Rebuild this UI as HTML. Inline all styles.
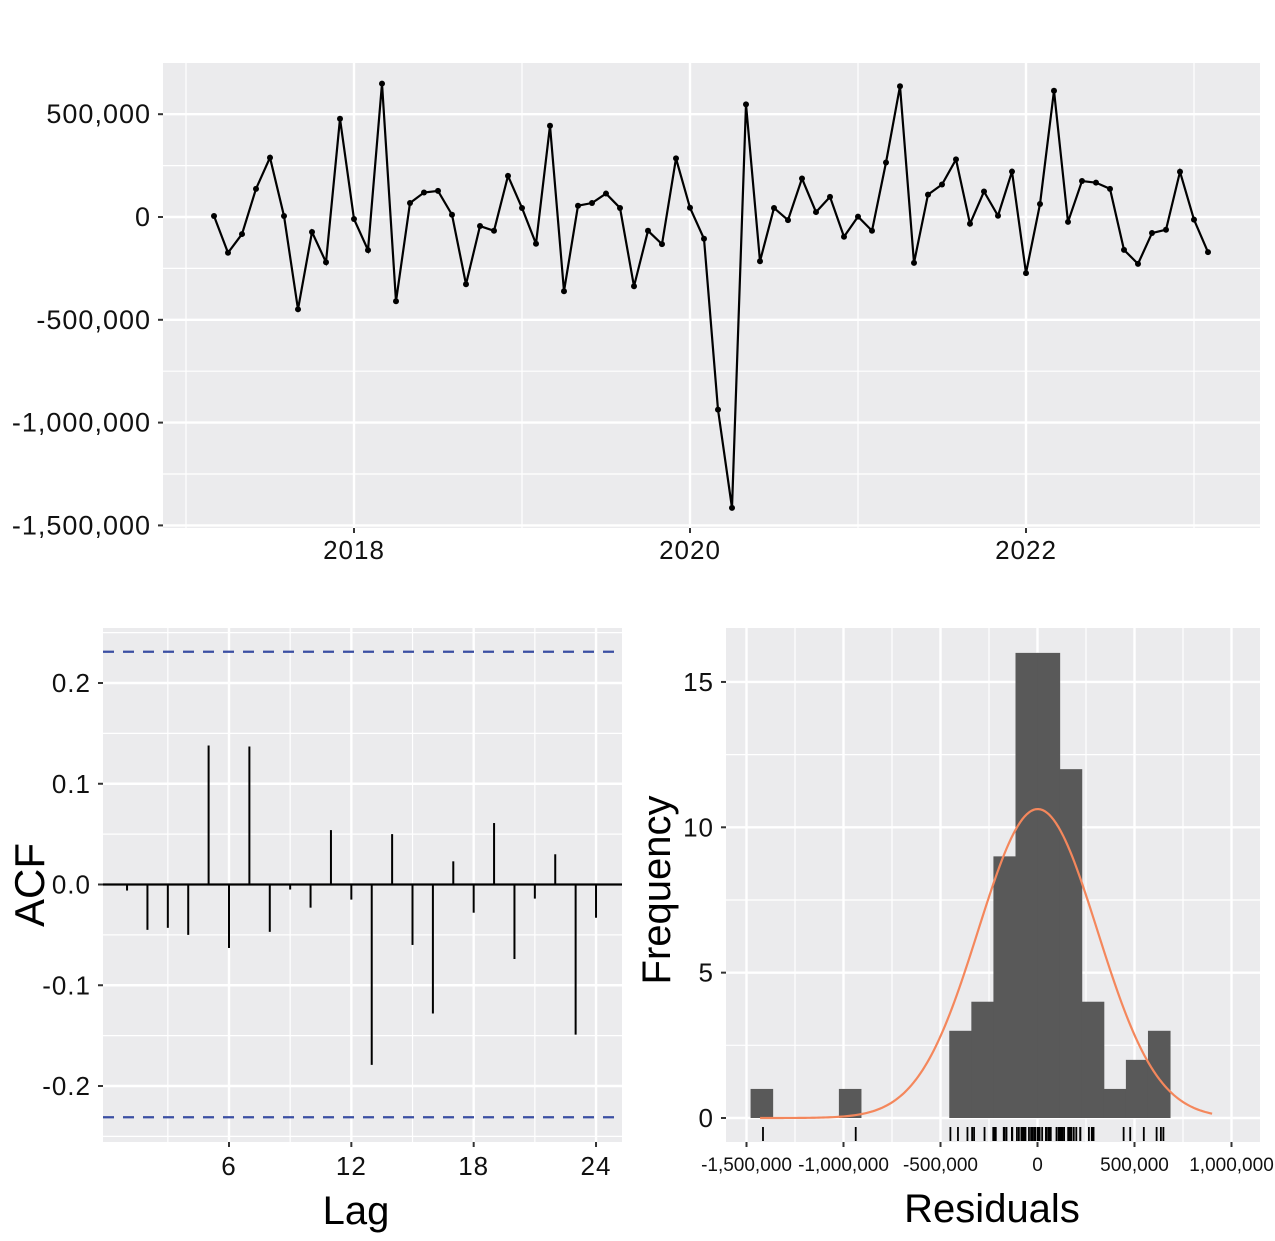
<!DOCTYPE html>
<html><head><meta charset="utf-8">
<style>
html,body{margin:0;padding:0;background:#fff;}
svg{display:block;font-family:"Liberation Sans",sans-serif;}
</style></head>
<body>
<svg id="chart" width="1275" height="1241" viewBox="0 0 1275 1241" xmlns="http://www.w3.org/2000/svg"></svg>
<script>
// ---- data ----
const residuals = [5000,-174000,-83000,137000,289000,5000,-449000,-73000,-220000,478000,-10000,-161000,649000,-410000,68000,119000,127000,11000,-327000,-44000,-67000,200000,44000,-130000,444000,-361000,55000,68000,114000,44000,-337000,-67000,-132000,285000,45000,-106000,-937000,-1415000,548000,-215000,44000,-15000,187000,24000,98000,-96000,2000,-67000,265000,636000,-223000,109000,158000,280000,-33000,124000,6000,221000,-273000,63000,614000,-24000,175000,167000,137000,-160000,-228000,-78000,-62000,220000,-13000,-171000];
const startYear = 2017, startMonth = 3;
const topYTicks = [500000,0,-500000,-1000000,-1500000];
const topYLabels = ["500,000","0","-500,000","-1,000,000","-1,500,000"];
const topXTicks = [2018,2020,2022];
const acfLags = [1,2,3,4,5,6,7,8,9,10,11,12,13,14,15,16,17,18,19,20,21,22,23,24];
const acfValues = [-0.006,-0.045,-0.043,-0.050,0.138,-0.063,0.137,-0.047,-0.005,-0.023,0.054,-0.015,-0.179,0.050,-0.060,-0.128,0.023,-0.028,0.061,-0.074,-0.014,0.030,-0.149,-0.033];
const acfYTicks = [0.2,0.1,0.0,-0.1,-0.2];
const acfYLabels = ["0.2","0.1","0.0","-0.1","-0.2"];
const acfXTicks = [6,12,18,24];
const histCounts = [1,0,0,0,1,0,0,0,0,3,4,9,16,16,12,4,1,2,3];
const histStart = -1479000, histBinWidth = 113800;
const histXTicks = [-1500000,-1000000,-500000,0,500000,1000000];
const histXLabels = ["-1,500,000","-1,000,000","-500,000","0","500,000","1,000,000"];
const histYTicks = [0,5,10,15];
const curveFrom = -1430000, curveTo = 900000;

const NS="http://www.w3.org/2000/svg";
const svg=document.getElementById('chart');
function el(tag,attrs,parent){const e=document.createElementNS(NS,tag);for(const k in attrs)e.setAttribute(k,attrs[k]);(parent||svg).appendChild(e);return e;}
function txt(s,attrs){const t=el('text',attrs);t.textContent=s;return t;}
const GRID="#ffffff", BG="#ebebed";

// ---- top panel ----
const T={x0:163,x1:1260,y0:63,y1:528};
const tx=t=>354+(t-2018)*168;
const ty=v=>217-v/500000*102.8;
let r=el('rect',{x:T.x0,y:T.y0,width:T.x1-T.x0,height:T.y1-T.y0,fill:BG});

[2017,2019,2021,2023].forEach(y=>el('line',{x1:tx(y),x2:tx(y),y1:T.y0,y2:T.y1,stroke:GRID,'stroke-width':1.2}));
[250000,-250000,-750000,-1250000].forEach(v=>el('line',{x1:T.x0,x2:T.x1,y1:ty(v),y2:ty(v),stroke:GRID,'stroke-width':1.2}));
topXTicks.forEach(y=>{el('line',{x1:tx(y),x2:tx(y),y1:T.y0,y2:T.y1,stroke:GRID,'stroke-width':2.4});
  el('line',{x1:tx(y),x2:tx(y),y1:T.y1,y2:T.y1+5,stroke:'#333','stroke-width':2});
  const t=txt(String(y),{x:tx(y),y:T.y1+31,'font-size':26,'letter-spacing':1,'text-anchor':'middle',fill:'#111'});
  });
topYTicks.forEach((v,i)=>{el('line',{x1:T.x0,x2:T.x1,y1:ty(v),y2:ty(v),stroke:GRID,'stroke-width':2.4});
  el('line',{x1:T.x0-5,x2:T.x0,y1:ty(v),y2:ty(v),stroke:'#333','stroke-width':2});
  const t=txt(topYLabels[i],{x:T.x0-12,y:ty(v)+9,'font-size':27,'letter-spacing':1,'text-anchor':'end',fill:'#111'});
  });
const pts=residuals.map((v,i)=>[tx(startYear+(startMonth-1+i)/12),ty(v)]);
const line=el('polyline',{points:pts.map(p=>p.join(',')).join(' '),fill:'none',stroke:'#000','stroke-width':2.2});

pts.forEach(p=>{const c=el('circle',{cx:p[0],cy:p[1],r:3,fill:'#000'});
  });

// ---- ACF panel ----
const A={x0:103,x1:622,y0:628,y1:1142};
const ax=l=>229+(l-6)*20.39;
const ay=v=>884.5-v*1007.5;
r=el('rect',{x:A.x0,y:A.y0,width:A.x1-A.x0,height:A.y1-A.y0,fill:BG});

[3,9,15,21].forEach(l=>el('line',{x1:ax(l),x2:ax(l),y1:A.y0,y2:A.y1,stroke:GRID,'stroke-width':1.2}));
[0.25,0.15,0.05,-0.05,-0.15,-0.25].forEach(v=>el('line',{x1:A.x0,x2:A.x1,y1:ay(v),y2:ay(v),stroke:GRID,'stroke-width':1.2}));
acfXTicks.forEach(l=>{el('line',{x1:ax(l),x2:ax(l),y1:A.y0,y2:A.y1,stroke:GRID,'stroke-width':2.4});
  el('line',{x1:ax(l),x2:ax(l),y1:A.y1,y2:A.y1+5,stroke:'#333','stroke-width':2});
  const t=txt(String(l),{x:ax(l),y:A.y1+33,'font-size':26,'letter-spacing':1,'text-anchor':'middle',fill:'#111'});
  });
acfYTicks.forEach((v,i)=>{el('line',{x1:A.x0,x2:A.x1,y1:ay(v),y2:ay(v),stroke:GRID,'stroke-width':2.4});
  el('line',{x1:A.x0-5,x2:A.x0,y1:ay(v),y2:ay(v),stroke:'#333','stroke-width':2});
  const t=txt(acfYLabels[i],{x:A.x0-12,y:ay(v)+9,'font-size':26,'letter-spacing':1,'text-anchor':'end',fill:'#111'});
  });
const ci=1.96/Math.sqrt(residuals.length);
[ci,-ci].forEach(v=>{const d=el('line',{x1:A.x0,x2:A.x1,y1:ay(v),y2:ay(v),stroke:'#3b4fa3','stroke-width':2.2,'stroke-dasharray':'11 9'});
  });
el('line',{x1:A.x0,x2:A.x1,y1:ay(0),y2:ay(0),stroke:'#000','stroke-width':2.2});
acfLags.forEach((l,i)=>{const s=el('line',{x1:ax(l),x2:ax(l),y1:ay(0),y2:ay(acfValues[i]),stroke:'#000','stroke-width':2});
  });
let t=txt('Lag',{x:356,y:1224,'font-size':40,'text-anchor':'middle',fill:'#000'});

t=txt('ACF',{x:0,y:0,'font-size':42,'text-anchor':'middle',fill:'#000',transform:`translate(44,${(A.y0+A.y1)/2}) rotate(-90)`});


// ---- histogram panel ----
const H={x0:726,x1:1260,y0:628,y1:1142};
const hx=v=>1037.5+v/500000*97;
const hy=c=>1118-c*29.07;
r=el('rect',{x:H.x0,y:H.y0,width:H.x1-H.x0,height:H.y1-H.y0,fill:BG});

[-1250000,-750000,-250000,250000,750000].forEach(v=>el('line',{x1:hx(v),x2:hx(v),y1:H.y0,y2:H.y1,stroke:GRID,'stroke-width':1.2}));
[2.5,7.5,12.5].forEach(c=>el('line',{x1:H.x0,x2:H.x1,y1:hy(c),y2:hy(c),stroke:GRID,'stroke-width':1.2}));
histXTicks.forEach((v,i)=>{el('line',{x1:hx(v),x2:hx(v),y1:H.y0,y2:H.y1,stroke:GRID,'stroke-width':2.4});
  el('line',{x1:hx(v),x2:hx(v),y1:H.y1,y2:H.y1+5,stroke:'#333','stroke-width':2});
  const t=txt(histXLabels[i],{x:hx(v),y:H.y1+29,'font-size':19,'text-anchor':'middle',fill:'#111'});
  });
histYTicks.forEach(c=>{el('line',{x1:H.x0,x2:H.x1,y1:hy(c),y2:hy(c),stroke:GRID,'stroke-width':2.4});
  el('line',{x1:H.x0-5,x2:H.x0,y1:hy(c),y2:hy(c),stroke:'#333','stroke-width':2});
  const t=txt(String(c),{x:H.x0-12,y:hy(c)+9,'font-size':26,'letter-spacing':1,'text-anchor':'end',fill:'#111'});
  });
histCounts.forEach((c,i)=>{if(!c)return;
  const a=histStart+i*histBinWidth,b=a+histBinWidth;
  const bar=el('rect',{x:hx(a),y:hy(c),width:hx(b)-hx(a)+0.5,height:hy(0)-hy(c),fill:'#595959'});
  });
const n=residuals.length,mean=residuals.reduce((s,v)=>s+v,0)/n;
const sd=Math.sqrt(residuals.reduce((s,v)=>s+(v-mean)*(v-mean),0)/(n-1));
const cp=[];for(let k=0;k<=200;k++){const x=curveFrom+(curveTo-curveFrom)*k/200;
  const d=Math.exp(-0.5*((x-mean)/sd)**2)/(sd*Math.sqrt(2*Math.PI));cp.push(hx(x)+','+hy(n*histBinWidth*d));}
const curve=el('polyline',{points:cp.join(' '),fill:'none',stroke:'#f4875c','stroke-width':2.2});

residuals.forEach(v=>{const rl=el('line',{x1:hx(v),x2:hx(v),y1:1127,y2:1141,stroke:'#000','stroke-width':1.8});
  });
t=txt('Residuals',{x:992,y:1222,'font-size':40,'text-anchor':'middle',fill:'#000'});

t=txt('Frequency',{x:0,y:0,'font-size':40,'text-anchor':'middle',fill:'#000',transform:`translate(670,890) rotate(-90)`});

</script>
</body></html>
